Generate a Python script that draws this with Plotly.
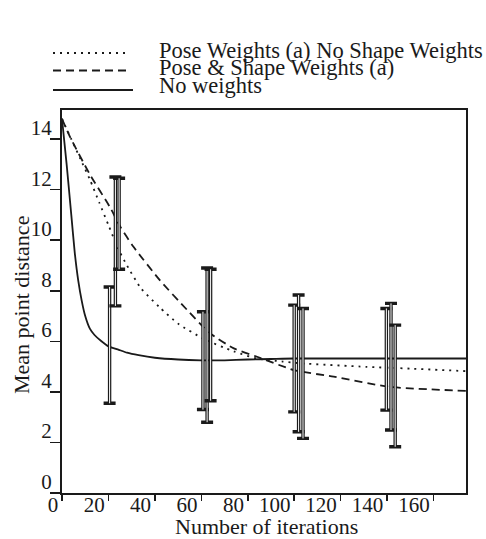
import plotly.graph_objects as go

# ---- curve data ----
no_w_x = [0, 2, 4, 5.5, 7, 8.5, 10, 12, 14, 17, 20, 24, 28, 33, 40, 50, 60, 70, 80, 90, 100, 174]
no_w_y = [14.8, 13.0, 11.0, 9.5, 8.4, 7.6, 7.0, 6.5, 6.25, 6.0, 5.8, 5.68, 5.55, 5.45, 5.35, 5.28, 5.25, 5.25, 5.28, 5.3, 5.32, 5.32]

pose_x = [0, 4, 8, 12, 16, 20, 24, 28, 34, 42, 50, 61, 74, 84, 95, 103, 131, 150, 174]
pose_y = [14.8, 14.0, 13.2, 12.4, 11.5, 10.6, 9.7, 9.0, 8.1, 7.35, 6.7, 6.1, 5.6, 5.32, 5.2, 5.13, 4.99, 4.92, 4.82]

shape_x = [0, 3.4, 12, 20.7, 25, 30.7, 42.3, 53.8, 61, 64, 74, 84, 100, 117, 141, 174]
shape_y = [14.8, 14.1, 12.6, 11.3, 10.55, 9.75, 8.4, 7.25, 6.55, 6.3, 5.72, 5.39, 4.86, 4.6, 4.2, 4.04]

# ---- error bar data (x position, low, high) ----
no_w_err_x = [20.5, 60.7, 100.0, 139.7]
no_w_err_lo = [3.55, 3.3, 3.21, 3.28]
no_w_err_hi = [8.15, 7.17, 7.43, 7.3]

pose_err_x = [23.0, 62.5, 101.9, 141.7]
pose_err_lo = [7.4, 2.8, 2.42, 2.49]
pose_err_hi = [12.5, 8.9, 7.83, 7.5]

shape_err_x = [24.6, 64.0, 103.8, 143.5]
shape_err_lo = [8.85, 3.65, 2.16, 1.83]
shape_err_hi = [12.45, 8.85, 7.3, 6.64]

x_ticks = [0, 20, 40, 60, 80, 100, 120, 140, 160]
y_ticks = [0, 2, 4, 6, 8, 10, 12, 14]

legend_labels = ["Pose Weights (a) No Shape Weights", "Pose & Shape Weights (a)", "No weights"]
x_title = "Number of iterations"
y_title = "Mean point distance"

FONT = "Liberation Serif"
INK = "#1a1a1a"

fig = go.Figure()

curves = [
    (pose_x, pose_y, "2px,5px"),
    (shape_x, shape_y, "8px,5px"),
    (no_w_x, no_w_y, "solid"),
]
for xs, ys, dash in curves:
    fig.add_trace(go.Scatter(x=xs, y=ys, mode="lines",
                             line=dict(color=INK, width=1.8, dash=dash, shape="spline", smoothing=0.6),
                             showlegend=False, hoverinfo="skip"))

err_sets = [
    (no_w_err_x, no_w_err_lo, no_w_err_hi),
    (pose_err_x, pose_err_lo, pose_err_hi),
    (shape_err_x, shape_err_lo, shape_err_hi),
]
for xs, lo, hi in err_sets:
    mid = [(a + b) / 2 for a, b in zip(lo, hi)]
    half = [(b - a) / 2 for a, b in zip(lo, hi)]
    for color, thick, w in [(INK, 3.4, 6), ("white", 1.0, 0)]:
        fig.add_trace(go.Scatter(x=xs, y=mid, mode="markers",
                                 marker=dict(size=1, color="rgba(0,0,0,0)"),
                                 error_y=dict(type="data", array=half, symmetric=True,
                                              color=color, thickness=thick, width=w),
                                 showlegend=False, hoverinfo="skip"))

# ---- hand-drawn legend (paper coordinates) ----
def py(px):
    return (493 - px) / 383.0

def px_(x):
    return (x - 62) / 404.0

legend_rows = [(53, 50, "2px,5px", 128), (70.5, 68, "8px,5px", 128), (90, 86, "solid", 133)]
for (ly, ty, dash, xe), label in zip(legend_rows, legend_labels):
    fig.add_shape(type="line", xref="paper", yref="paper",
                  x0=px_(53), x1=px_(xe), y0=py(ly), y1=py(ly),
                  line=dict(color=INK, width=1.8, dash=dash))
    fig.add_annotation(xref="paper", yref="paper", x=px_(158), y=py(ty),
                       text=label, showarrow=False, xanchor="left", yanchor="middle",
                       borderpad=0, font=dict(family=FONT, size=22.5, color=INK))

# axis titles as annotations for exact placement
fig.add_annotation(xref="paper", yref="paper", x=px_(266), y=py(526),
                   text=x_title, showarrow=False, xanchor="center", yanchor="middle",
                   borderpad=0, font=dict(family=FONT, size=22, color=INK))
fig.add_annotation(xref="paper", yref="paper", x=px_(21), y=py(305),
                   text=y_title, showarrow=False, xanchor="center", yanchor="middle",
                   textangle=-90, borderpad=0, font=dict(family=FONT, size=22, color=INK))

axis_common = dict(showline=True, linecolor=INK, linewidth=2, mirror=True, automargin=False,
                   showgrid=False, zeroline=False, ticks="outside", tickcolor=INK,
                   tickwidth=1.5, tickfont=dict(family=FONT, size=21, color=INK))

fig.update_xaxes(range=[0, 174], tickvals=x_ticks, ticktext=[str(v) for v in x_ticks],
                 ticklen=6, ticklabelposition="outside left", ticklabelstandoff=-8, ticklabelshift=-2,
                 **axis_common)
fig.update_yaxes(range=[0, 15.15], tickvals=y_ticks, ticktext=[str(v) for v in y_ticks],
                 ticklen=10, ticklabelposition="outside top", ticklabelstandoff=4, ticklabelshift=4,
                 **axis_common)

fig.update_layout(width=486, height=539, margin=dict(l=62, r=20, t=110, b=46, autoexpand=False),
                  plot_bgcolor="white", paper_bgcolor="white", showlegend=False)

fig.write_html("out.html", config={"displayModeBar": False, "staticPlot": True},
               post_script="document.body.style.margin='0';document.body.style.overflow='hidden';")
